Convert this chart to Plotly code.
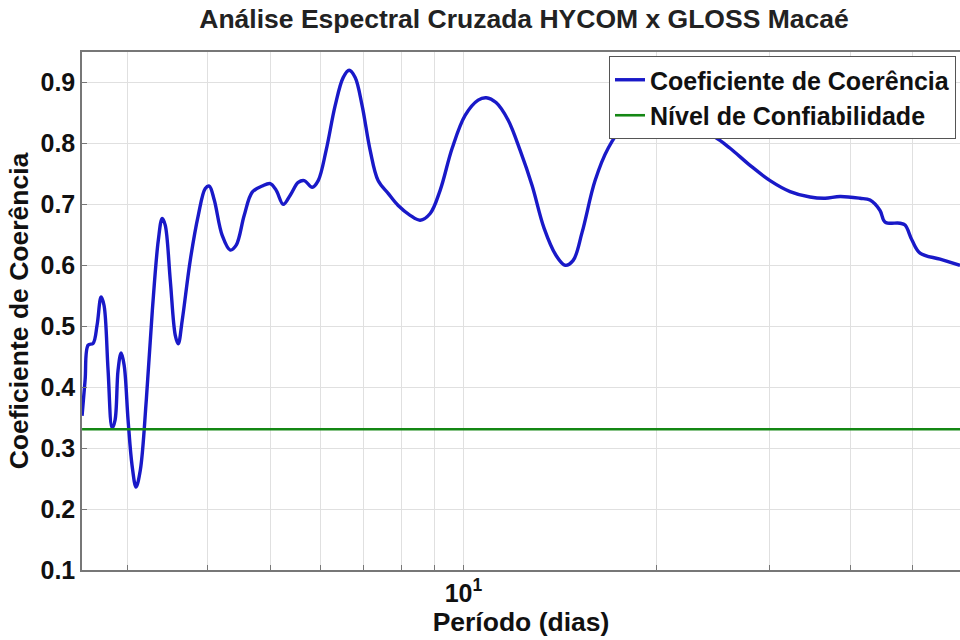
import plotly.graph_objects as go

# Período (dias) and coherence
periodo = [2.548, 2.576, 2.604, 2.651, 2.689, 2.728, 2.757, 2.797, 2.838, 2.868,
           2.899, 2.931, 2.963, 3.005, 3.048, 3.092, 3.140, 3.208, 3.278, 3.349,
           3.396, 3.433, 3.496, 3.559, 3.597, 3.649, 3.755, 3.865, 3.963, 4.020,
           4.093, 4.211, 4.334, 4.428, 4.557, 4.690, 4.861, 5.002, 5.111, 5.241,
           5.374, 5.530, 5.651, 5.814, 5.941, 6.113, 6.313, 6.497, 6.638, 6.783,
           6.954, 7.156, 7.364, 7.634, 7.913, 8.260, 8.563, 8.876, 9.198, 9.603,
           10.06, 10.54, 10.85, 11.24, 11.74, 12.25, 12.79, 13.35, 13.94, 14.40,
           14.82, 15.30, 16.03, 16.80, 17.54, 18.31, 19.53, 20.98, 23.36, 24.65,
           26.01, 27.94, 30.02, 32.25, 34.64, 36.56, 38.58, 41.43, 42.95, 44.52,
           45.33, 47.83, 48.70, 49.94, 51.39, 55.21, 59.31]
coerencia = [0.353, 0.412, 0.469, 0.472, 0.502, 0.548, 0.534, 0.428, 0.333, 0.346,
             0.428, 0.456, 0.436, 0.346, 0.272, 0.236, 0.264, 0.379, 0.526, 0.641,
             0.677, 0.666, 0.575, 0.485, 0.471, 0.510, 0.608, 0.682, 0.726, 0.730,
             0.707, 0.649, 0.625, 0.633, 0.682, 0.720, 0.730, 0.734, 0.723, 0.700,
             0.715, 0.736, 0.739, 0.728, 0.739, 0.789, 0.862, 0.908, 0.920, 0.908,
             0.862, 0.789, 0.739, 0.718, 0.698, 0.682, 0.674, 0.685, 0.723, 0.792,
             0.846, 0.871, 0.875, 0.867, 0.838, 0.789, 0.731, 0.661, 0.616, 0.600,
             0.608, 0.654, 0.739, 0.792, 0.820, 0.825, 0.825, 0.821, 0.820, 0.810,
             0.792, 0.764, 0.739, 0.721, 0.712, 0.710, 0.713, 0.710, 0.707, 0.690,
             0.671, 0.669, 0.666, 0.641, 0.620, 0.610, 0.600]
nivel_confianca = 0.331

x_grid = [3, 4, 5, 6, 7, 8, 9, 10, 20, 30, 40, 50]
x_text = ["", "", "", "", "", "", "", "<b>10<sup>1</sup></b>", "", "", "", ""]
y_ticks = [0.1, 0.2, 0.3, 0.4, 0.5, 0.6, 0.7, 0.8, 0.9]
y_text = ["<b>0.1</b>", "<b>0.2</b>", "<b>0.3</b>", "<b>0.4</b>", "<b>0.5</b>",
          "<b>0.6</b>", "<b>0.7</b>", "<b>0.8</b>", "<b>0.9</b>"]

FONT = "Arial, 'Liberation Sans', sans-serif"

fig = go.Figure()
fig.add_trace(go.Scatter(
    x=periodo, y=coerencia, mode="lines", name="<b>Coeficiente de Coerência</b>",
    line=dict(color="rgb(25,25,200)", width=3.4), line_shape="spline"))
fig.add_trace(go.Scatter(
    x=[periodo[0], periodo[-1]], y=[nivel_confianca, nivel_confianca], mode="lines",
    name="<b>Nível de Confiabilidade</b>",
    line=dict(color="rgb(20,135,20)", width=2.6)))

fig.update_layout(
    width=960, height=640,
    margin=dict(l=82, r=0, t=52, b=70, autoexpand=False),
    paper_bgcolor="white", plot_bgcolor="white",
    font=dict(family=FONT, size=25, color="#111"),
    title=dict(text="<b>Análise Espectral Cruzada HYCOM x GLOSS Macaé</b>",
               x=524 / 960, xref="container", xanchor="center",
               y=1 - 19 / 640, yref="container", yanchor="middle",
               font=dict(size=26.5, color="#222"), automargin=False),
    legend=dict(x=(956 - 82) / 878, y=1 - 4 / 518, xanchor="right", yanchor="top",
                bgcolor="white", bordercolor="#555", borderwidth=1,
                font=dict(size=25, color="#111"), tracegroupgap=0,
                itemwidth=30),
    showlegend=True,
)
fig.update_xaxes(
    type="log", range=[0.4061, 1.7731], automargin=False,
    tickvals=x_grid, ticktext=x_text, tickfont=dict(size=25, color="#111"),
    showgrid=True, gridcolor="#e0e0e0", gridwidth=1,
    ticks="inside", ticklen=5, tickcolor="#777",
    showline=True, linecolor="#777", linewidth=1.5, mirror=True,
    title=dict(text="<b>Período (dias)</b>", font=dict(size=26.5, color="#111"), standoff=0),
    zeroline=False,
)
fig.update_yaxes(
    range=[0.1, 0.95], tickvals=y_ticks, automargin=False,
    ticktext=y_text, tickfont=dict(size=25, color="#111"),
    showgrid=True, gridcolor="#e0e0e0", gridwidth=1,
    ticks="inside", ticklen=5, tickcolor="#777",
    showline=True, linecolor="#777", linewidth=1.5,
    title=dict(text="<b>Coeficiente de Coerência</b>", font=dict(size=26.5, color="#111"), standoff=4),
    zeroline=False,
)

fig.write_html("out.html", config={"displayModeBar": False},
               post_script="document.body.style.margin='0px';document.body.style.overflow='hidden';")
